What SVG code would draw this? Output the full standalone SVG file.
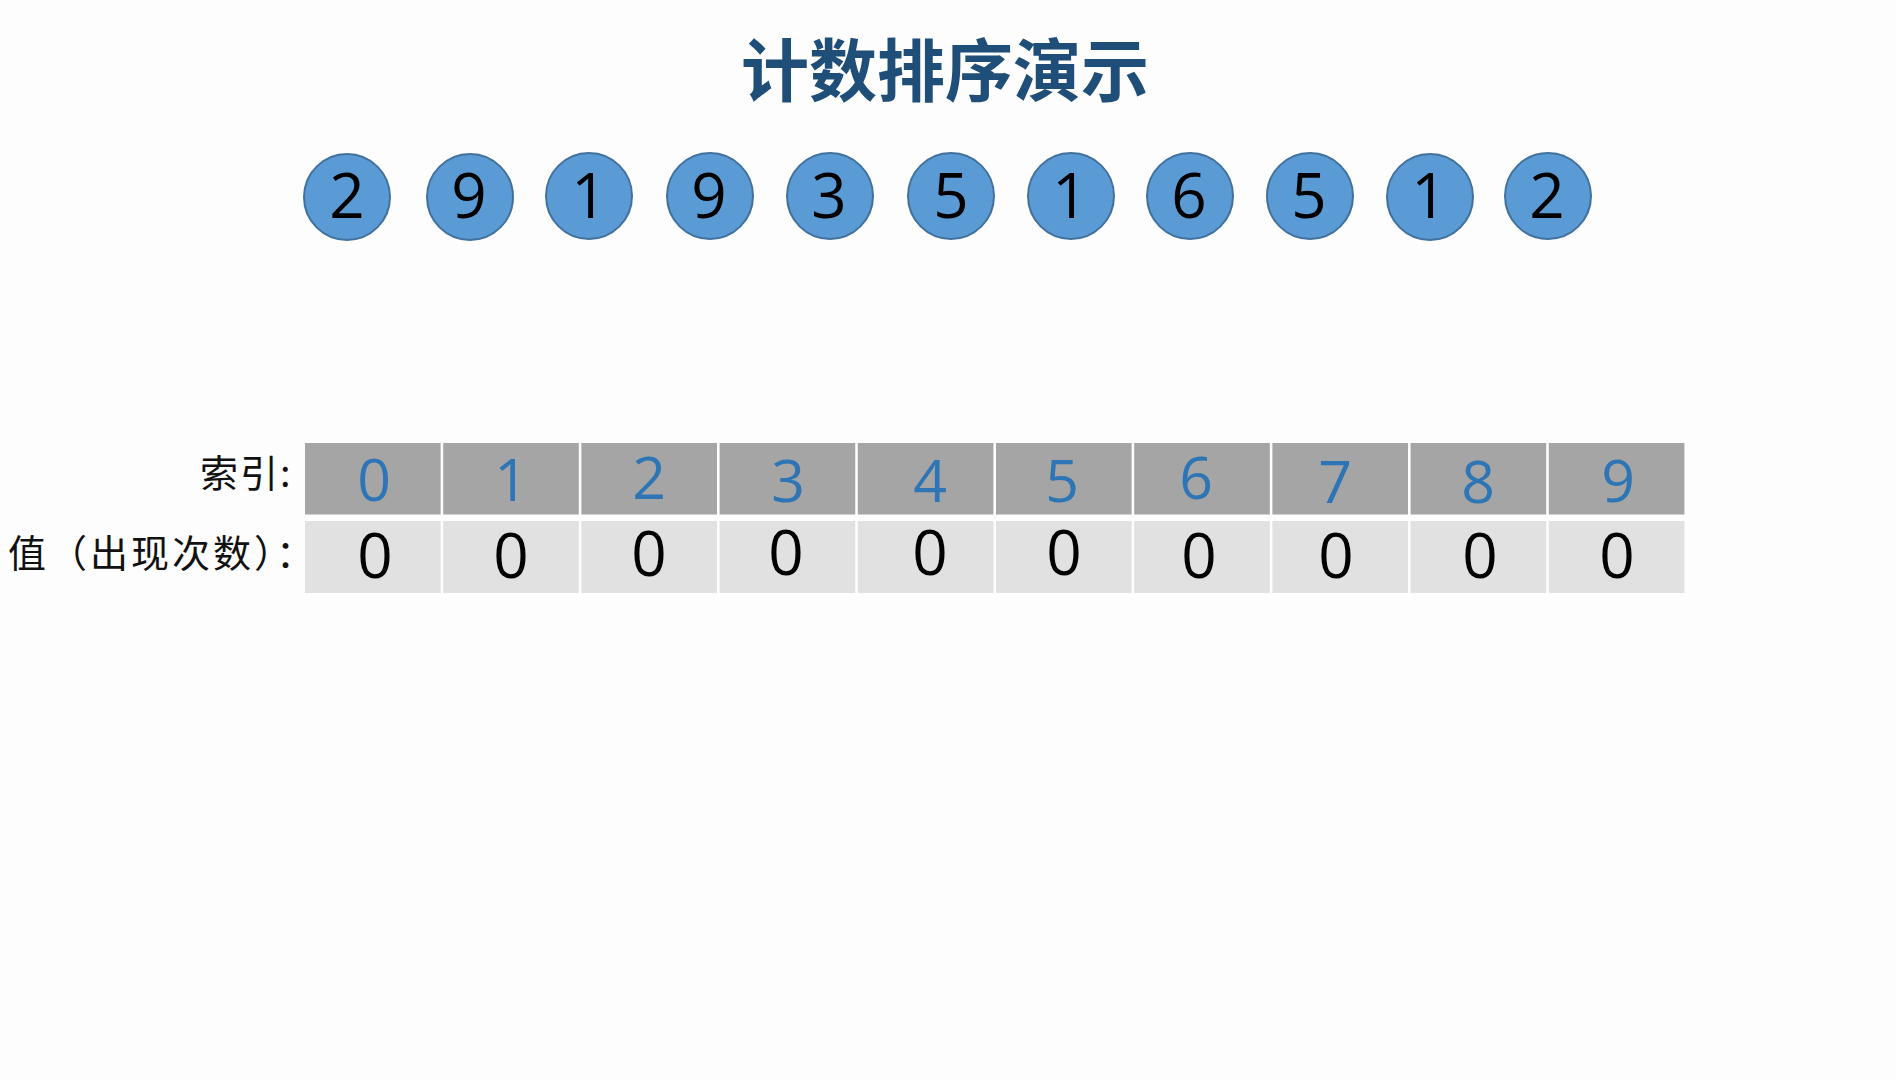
<svg xmlns="http://www.w3.org/2000/svg" width="1896" height="1080" viewBox="0 0 1896 1080">
<style>
.title{font-family:"Noto Sans CJK SC","Noto Sans",sans-serif;font-weight:bold;font-size:68px;fill:#1f4e79;text-anchor:middle}
.ball{fill:#5b9bd5;stroke:#41719c;stroke-width:2}
.bnum{font-family:"Open Sans","Noto Sans",sans-serif;font-size:62px;fill:#000;text-anchor:middle}
.hcell{fill:#a5a5a5}
.vcell{fill:#e1e1e1}
.hnum{font-family:"Open Sans","Noto Sans",sans-serif;font-size:59px;fill:#2e75b6;text-anchor:middle}
.vnum{font-family:"Open Sans","Noto Sans",sans-serif;font-size:62px;fill:#000;text-anchor:middle}
.lbl{font-family:"Noto Sans CJK SC","Noto Sans",sans-serif;font-size:38px;fill:#111;text-anchor:start}
</style>
<rect width="1896" height="1080" fill="#fdfdfd"/>
<g id="title"><text class="title" x="945" y="96">计数排序演示</text></g>
<g id="balls">
<g id="b0"><circle class="ball" cx="347" cy="197" r="43"/><text class="bnum" x="347" y="218">2</text></g>
<g id="b1"><circle class="ball" cx="470" cy="197" r="43"/><text class="bnum" x="469" y="218">9</text></g>
<g id="b2"><circle class="ball" cx="589" cy="196" r="43"/><text class="bnum" x="589" y="218">1</text></g>
<g id="b3"><circle class="ball" cx="710" cy="196" r="43"/><text class="bnum" x="709" y="218">9</text></g>
<g id="b4"><circle class="ball" cx="830" cy="196" r="43"/><text class="bnum" x="829" y="218">3</text></g>
<g id="b5"><circle class="ball" cx="951" cy="196" r="43"/><text class="bnum" x="951" y="218">5</text></g>
<g id="b6"><circle class="ball" cx="1071" cy="196" r="43"/><text class="bnum" x="1070" y="218">1</text></g>
<g id="b7"><circle class="ball" cx="1190" cy="196" r="43"/><text class="bnum" x="1189" y="218">6</text></g>
<g id="b8"><circle class="ball" cx="1310" cy="196" r="43"/><text class="bnum" x="1309" y="218">5</text></g>
<g id="b9"><circle class="ball" cx="1430" cy="197" r="43"/><text class="bnum" x="1429" y="218">1</text></g>
<g id="b10"><circle class="ball" cx="1548" cy="196" r="43"/><text class="bnum" x="1547" y="218">2</text></g>
</g>
<g id="labels">
<text class="lbl" x="200" y="487" letter-spacing="2">索引:</text>
<text class="lbl" x="8" y="567" letter-spacing="3">值（出现次数）：</text>
</g>
<g id="table">
<g id="c0"><rect class="hcell" x="305" y="443" width="135.6" height="71.5"/><rect class="vcell" x="305" y="521" width="135.6" height="72"/><text class="hnum" x="374" y="501">0</text><text class="vnum" x="375" y="578">0</text></g>
<g id="c1"><rect class="hcell" x="443.2" y="443" width="135.6" height="71.5"/><rect class="vcell" x="443.2" y="521" width="135.6" height="72"/><text class="hnum" x="511" y="501">1</text><text class="vnum" x="511" y="578">0</text></g>
<g id="c2"><rect class="hcell" x="581.4" y="443" width="135.6" height="71.5"/><rect class="vcell" x="581.4" y="521" width="135.6" height="72"/><text class="hnum" x="649" y="499">2</text><text class="vnum" x="649" y="576">0</text></g>
<g id="c3"><rect class="hcell" x="719.6" y="443" width="135.6" height="71.5"/><rect class="vcell" x="719.6" y="521" width="135.6" height="72"/><text class="hnum" x="788" y="502">3</text><text class="vnum" x="786" y="575">0</text></g>
<g id="c4"><rect class="hcell" x="857.8" y="443" width="135.6" height="71.5"/><rect class="vcell" x="857.8" y="521" width="135.6" height="72"/><text class="hnum" x="930" y="502">4</text><text class="vnum" x="930" y="575">0</text></g>
<g id="c5"><rect class="hcell" x="996" y="443" width="135.6" height="71.5"/><rect class="vcell" x="996" y="521" width="135.6" height="72"/><text class="hnum" x="1062" y="502">5</text><text class="vnum" x="1064" y="575">0</text></g>
<g id="c6"><rect class="hcell" x="1134.2" y="443" width="135.6" height="71.5"/><rect class="vcell" x="1134.2" y="521" width="135.6" height="72"/><text class="hnum" x="1196" y="499">6</text><text class="vnum" x="1199" y="578">0</text></g>
<g id="c7"><rect class="hcell" x="1272.4" y="443" width="135.6" height="71.5"/><rect class="vcell" x="1272.4" y="521" width="135.6" height="72"/><text class="hnum" x="1335" y="503">7</text><text class="vnum" x="1336" y="578">0</text></g>
<g id="c8"><rect class="hcell" x="1410.6" y="443" width="135.6" height="71.5"/><rect class="vcell" x="1410.6" y="521" width="135.6" height="72"/><text class="hnum" x="1478" y="503">8</text><text class="vnum" x="1480" y="578">0</text></g>
<g id="c9"><rect class="hcell" x="1548.8" y="443" width="135.6" height="71.5"/><rect class="vcell" x="1548.8" y="521" width="135.6" height="72"/><text class="hnum" x="1618" y="502">9</text><text class="vnum" x="1617" y="578">0</text></g>
</g>
</svg>
